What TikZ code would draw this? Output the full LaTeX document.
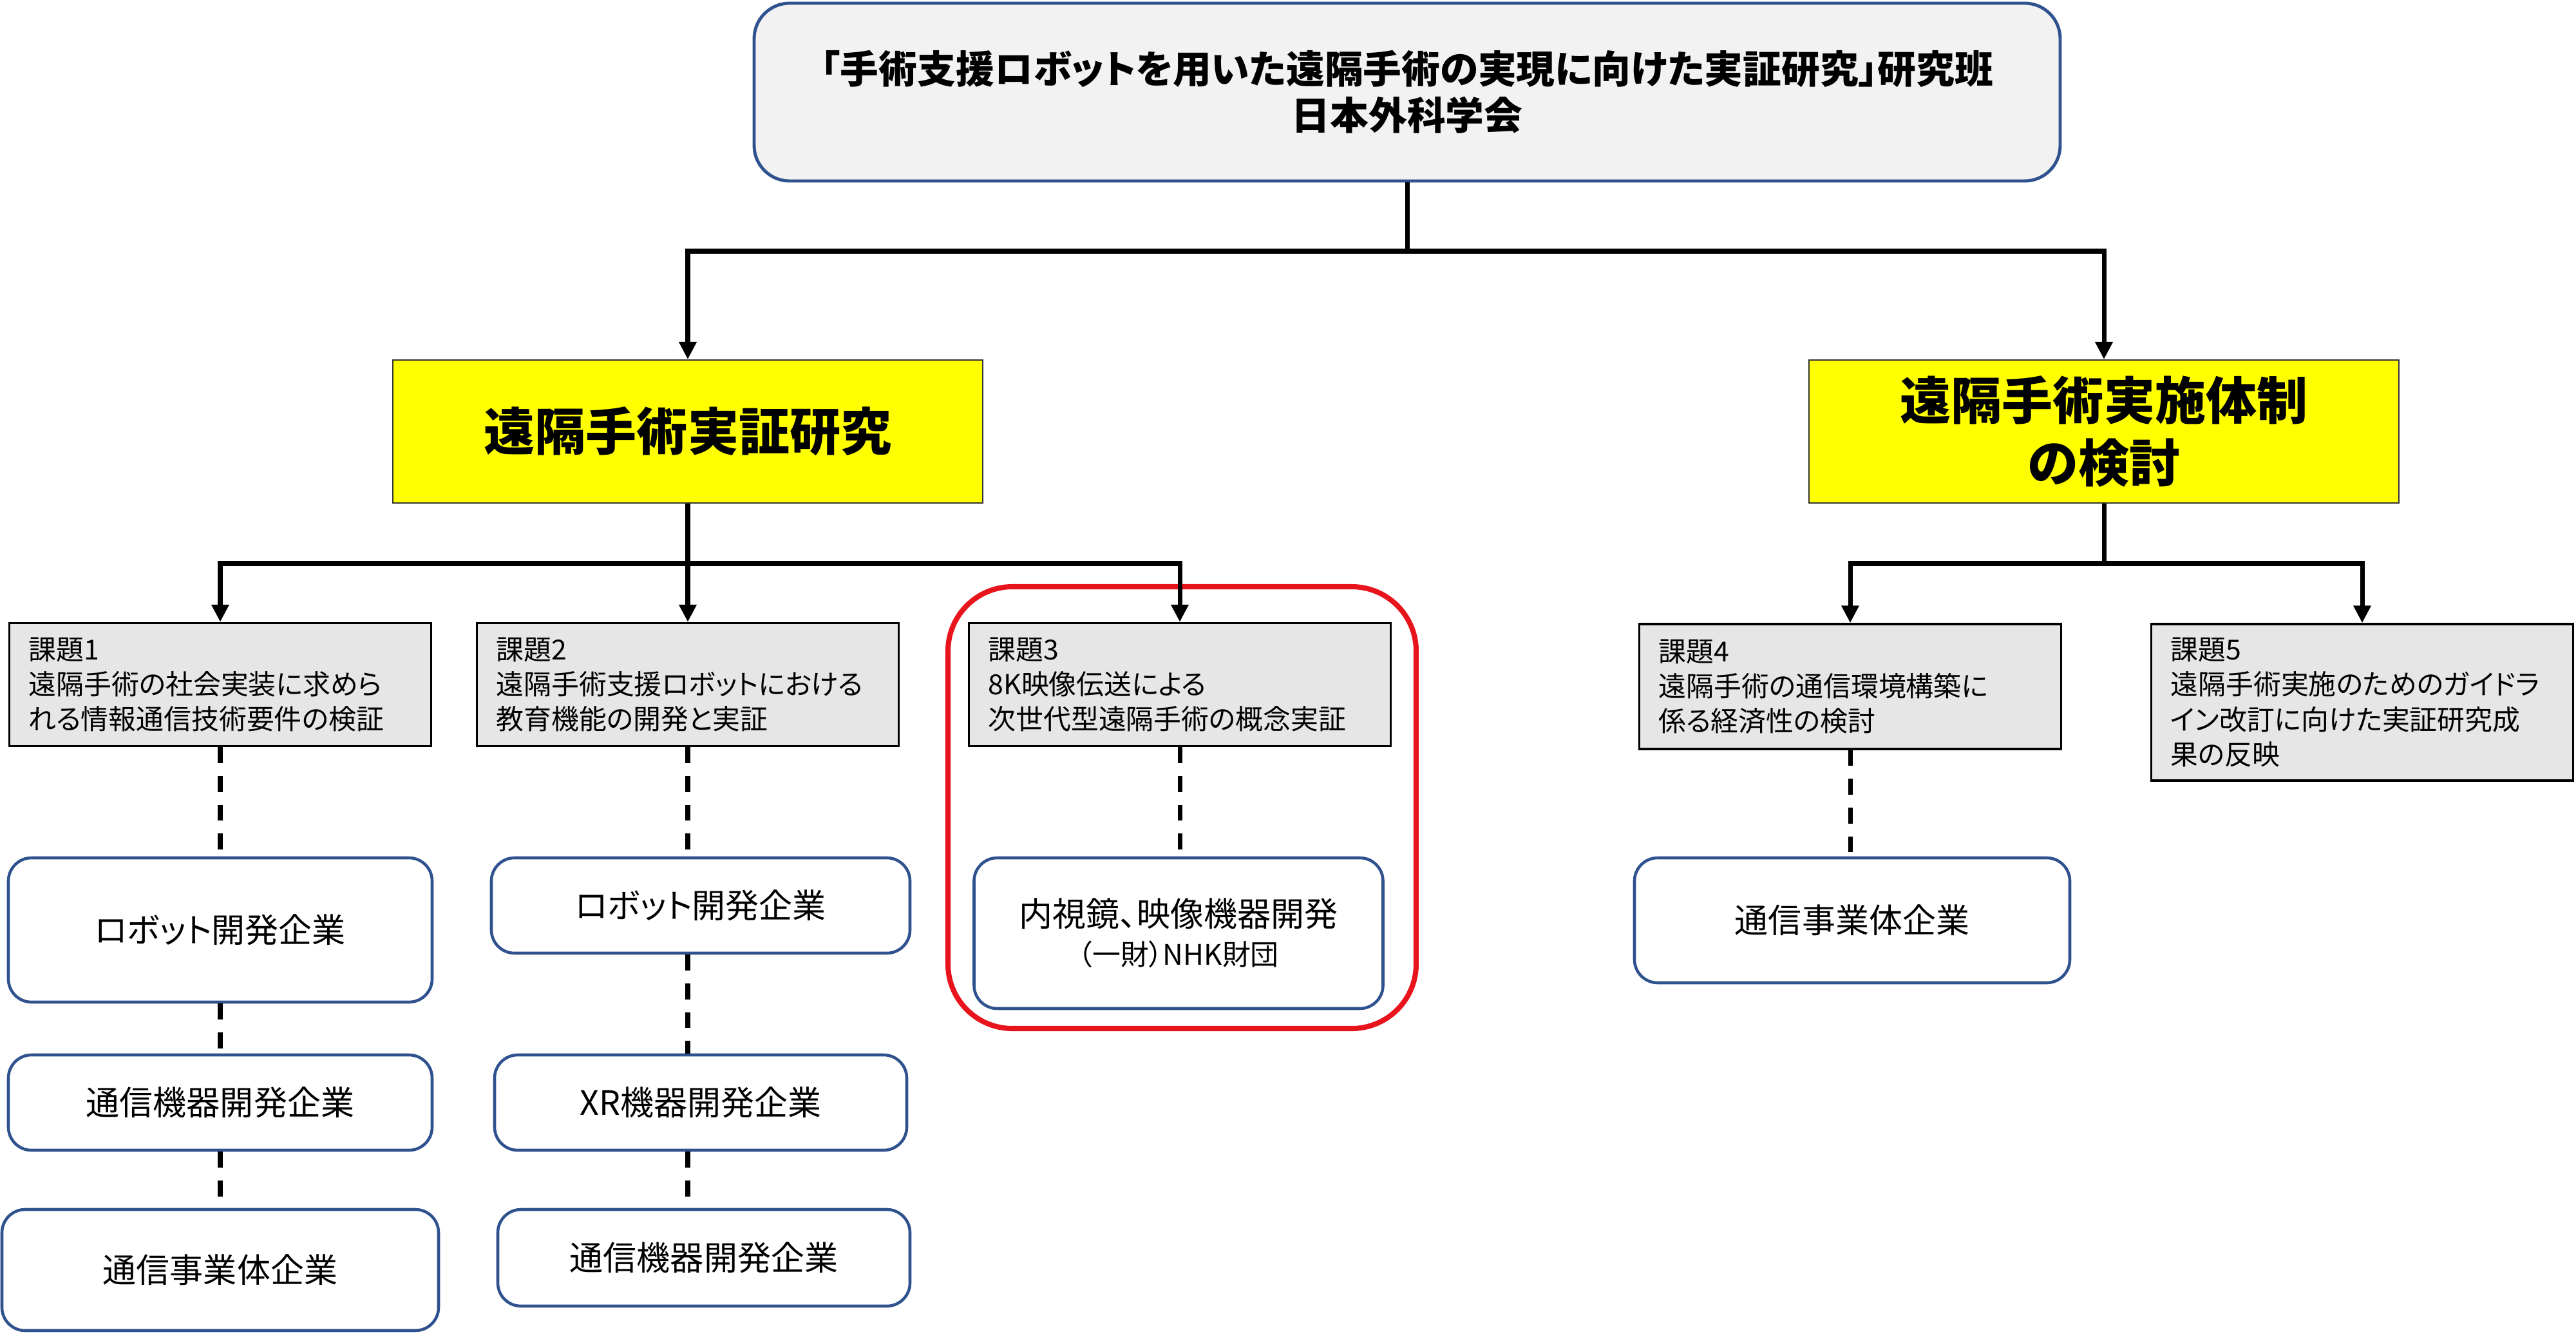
\documentclass[tikz,border=0pt]{standalone}
\usepackage{fontspec}
\setmainfont{Noto Sans CJK JP}[RawFeature=+palt]
\usepackage{tikz}
\usepackage{xcolor}
\usetikzlibrary{arrows.meta,positioning,calc}
\definecolor{frame}{HTML}{2F528F}
\definecolor{headfill}{HTML}{F2F2F2}
\definecolor{taskfill}{HTML}{E7E6E6}
\definecolor{theme}{HTML}{FFFF00}
\definecolor{hilite}{HTML}{E8141C}
\tikzset{
  headbox/.style={draw=frame, fill=headfill, rounded corners=0.55cm, line width=1.4pt,
                  align=center, inner sep=0pt, font=\bfseries\fontsize{17}{20.5}\selectfont},
  themebox/.style={draw=black!80, fill=theme, line width=0.6pt, align=center, inner sep=0pt,
                   minimum width=9.16cm, minimum height=2.22cm,
                   font=\bfseries\fontsize{22.5}{27.6}\selectfont},
  taskbox/.style={draw=black, fill=taskfill, line width=1pt, align=left, text width=5.95cm,
                  inner xsep=0.3cm, inner ysep=0pt, font=\fontsize{12.2}{15.4}\selectfont},
  firmbox/.style={draw=frame, fill=white, rounded corners=0.36cm, line width=1.3pt,
                  align=center, inner sep=0pt, font=\fontsize{14.8}{18}\selectfont},
  arrow/.style={-{Triangle[length=0.27cm,width=0.26cm]}, line width=2pt, draw=black},
  link/.style={dash pattern=on 7pt off 5.7pt, line width=2pt, draw=black}
}
\begin{document}
\begin{tikzpicture}
  \useasboundingbox (0,0) rectangle (40,-20.75);

  % head
  \node[headbox,minimum width=20.28cm,minimum height=2.76cm] (top) at (21.85,-1.43)
    {「手術支援ロボットを用いた遠隔手術の実現に向けた実証研究」研究班\\日本外科学会};

  % themes
  \node[themebox] (study)  at (10.68,-6.70) {遠隔手術実証研究};
  \node[themebox] (system) at (32.67,-6.70) {遠隔手術実施体制\\の検討};

  % tasks
  \node[taskbox,minimum height=1.91cm] (task1) at (3.42,-10.63)
    {課題1\\遠隔手術の社会実装に求めら\\れる情報通信技術要件の検証};
  \node[taskbox,minimum height=1.91cm] (task2) at (10.68,-10.63)
    {課題2\\遠隔手術支援ロボットにおける\\教育機能の開発と実証};
  \node[taskbox,minimum height=1.91cm] (task3) at (18.32,-10.63)
    {課題3\\8K映像伝送による\\次世代型遠隔手術の概念実証};
  \node[taskbox,minimum height=1.94cm] (task4) at (28.73,-10.66)
    {課題4\\遠隔手術の通信環境構築に\\係る経済性の検討};
  \node[taskbox,minimum height=2.43cm] (task5) at (36.68,-10.905)
    {課題5\\遠隔手術実施のためのガイドラ\\イン改訂に向けた実証研究成\\果の反映};

  % companies
  \node[firmbox,minimum width=6.58cm,minimum height=2.24cm] (co11) at (3.42,-14.44) {ロボット開発企業};
  \node[firmbox,minimum width=6.58cm,minimum height=1.48cm] (co12) at (3.42,-17.12) {通信機器開発企業};
  \node[firmbox,minimum width=6.78cm,minimum height=1.88cm] (co13) at (3.42,-19.72) {通信事業体企業};
  \node[firmbox,minimum width=6.50cm,minimum height=1.48cm] (co21) at (10.88,-14.06) {ロボット開発企業};
  \node[firmbox,minimum width=6.40cm,minimum height=1.48cm] (co22) at (10.88,-17.12) {XR機器開発企業};
  \node[firmbox,minimum width=6.40cm,minimum height=1.50cm] (co23) at (10.93,-19.53) {通信機器開発企業};
  \node[firmbox,minimum width=6.35cm,minimum height=2.34cm] (co31) at (18.30,-14.49)
    {内視鏡、映像機器開発\\[-1pt]{\fontsize{12.5}{15}\selectfont（一財）NHK財団}};
  \node[firmbox,minimum width=6.76cm,minimum height=1.94cm] (co41) at (28.76,-14.29) {通信事業体企業};

  % highlight
  \node[draw=hilite,line width=2.3pt,rounded corners=1cm,minimum width=7.27cm,minimum height=6.86cm]
    (hl) at (18.355,-12.54) {};

  % tree
  \coordinate (bus1) at (21.85,-3.90);
  \coordinate (bus2) at (10.68,-8.75);
  \coordinate (bus3) at (32.67,-8.75);
  \draw[arrow] (top.south) -- (bus1) -| (study.north);
  \draw[arrow] (bus1) -| (system.north);
  \draw[arrow] (study.south) -- (bus2) -| (task1.north);
  \draw[arrow] (bus2) -- (task2.north);
  \draw[arrow] (bus2) -| (task3.north);
  \draw[arrow] (system.south) -- (bus3) -| (task4.north);
  \draw[arrow] (bus3) -| (task5.north);

  % dashed links
  \draw[link] (task1) -- (co11);
  \draw[link] (co11) -- (co12);
  \draw[link] (co12) -- (co13);
  \draw[link] (task2.south) -- (task2.south |- co21.north);
  \draw[link] (co21.south -| task2.south) -- (co22.north -| task2.south);
  \draw[link] (co22.south -| task2.south) -- (co23.north -| task2.south);
  \draw[link] (task3.south) -- (task3.south |- co31.north);
  \draw[link] (task4.south) -- (task4.south |- co41.north);
\end{tikzpicture}
\end{document}
